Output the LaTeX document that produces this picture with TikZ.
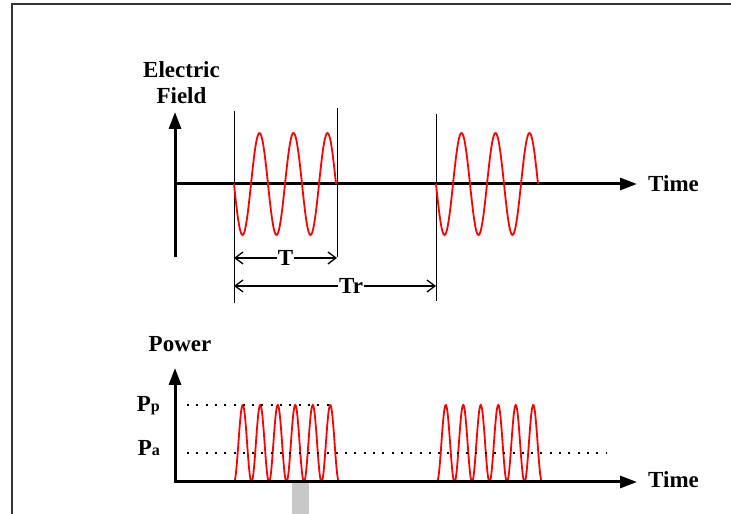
\documentclass[tikz,border=0pt]{standalone}
\usepackage{fontspec}
\setmainfont{Liberation Serif}
\usetikzlibrary{arrows.meta}
\definecolor{pulsered}{RGB}{255,0,0}
\definecolor{shadegray}{RGB}{200,200,200}

\begin{document}
\begin{tikzpicture}[x=1pt,y=1pt,
    lbl/.style={font=\fontsize{23}{26}\selectfont\bfseries, inner sep=0pt},
    axis/.style={line width=3pt, -{Triangle[length=17pt,width=12pt]}},
    marker/.style={line width=1pt},
    dim/.style={line width=1.3pt, {Straight Barb[length=8pt,width=12pt]}-{Straight Barb[length=8pt,width=12pt]}},
    wave/.style={pulsered, line width=1.8pt, smooth},
    dotline/.style={line width=2pt, dash pattern=on 2pt off 7.3pt}]
    \useasboundingbox (0,0) rectangle (731,514);
    \def \period {34} % one field cycle, in px
    \def \amp {51}
    \def \hump {17.5} % one power hump
    % frame
    \coordinate (fb) at (12,0);
    \coordinate (ft) at (12,510);
    \coordinate (fr) at (731,510);
    \draw[line width=1.2pt, black!80] (fb) -- (ft) -- (fr);

    % electric field
    \coordinate (E0) at (175,330);
    \coordinate (Elow) at (175,257);
    \coordinate (Eup) at (175,402);
    \coordinate (Eend) at (637,330);
    \draw[axis] (Elow) -- (Eup);
    \draw[axis] (E0) -- (Eend);
    \node[lbl, align=center] (efield) at (181.5,431) {Electric\\Field};
    \node[lbl, anchor=west] (time1) at (648,330) {Time};
    \foreach \m/\x/\t/\b in {a/234/403/211, b/337/406/257, c/436/400/213}
    {
      \coordinate (mt\m) at (\x,\t);
      \coordinate (mb\m) at (\x,\b);
      \draw[marker] (mt\m) -- (mb\m);
    }
    \foreach \s in {234,436}
      \draw[wave] plot[domain=0:3*\period, samples=120] ({\s+\x},{330-\amp*sin(\x/\period*360)});
    \coordinate (tl) at (234,256);
    \coordinate (tr) at (337,256);
    \draw[dim] (tl) -- node[lbl, fill=white, inner xsep=1pt] (T) {T} (tr);
    \coordinate (rl) at (234,228);
    \coordinate (rr) at (436,228);
    \draw[dim] (rl) -- node[lbl, fill=white, inner xsep=1pt, pos=0.58] (Tr) {Tr} (rr);

    % power
    \fill[shadegray] (292,0) rectangle (309,32);
    \foreach \s in {234,437}
      \draw[wave] plot[domain=0:6*\hump, samples=200] ({\s+\x},{32+77*pow(sin(\x/\hump*180),2)});
    \coordinate (P0) at (175,32);
    \coordinate (Pup) at (175,146);
    \coordinate (Pend) at (637,32);
    \draw[line width=3pt, {Triangle[length=17pt,width=12pt]}-{Triangle[length=17pt,width=12pt]}] (Pup) -- (P0) -- (Pend);
    \coordinate (pp0) at (187,109);
    \coordinate (pp1) at (335,109);
    \coordinate (pa0) at (187,61);
    \coordinate (pa1) at (607,61);
    \draw[dotline] (pp0) -- (pp1);
    \draw[dotline] (pa0) -- (pa1);
    \node[lbl] (power) at (180,170) {Power};
    \node[lbl, anchor=base east] (Pp) at (160,102) {P{\fontsize{16}{16}\selectfont p}};
    \node[lbl, anchor=base east] (Pa) at (160,58) {P{\fontsize{16}{16}\selectfont a}};
    \node[lbl, anchor=west] (time2) at (648,34) {Time};
\end{tikzpicture}
\end{document}
